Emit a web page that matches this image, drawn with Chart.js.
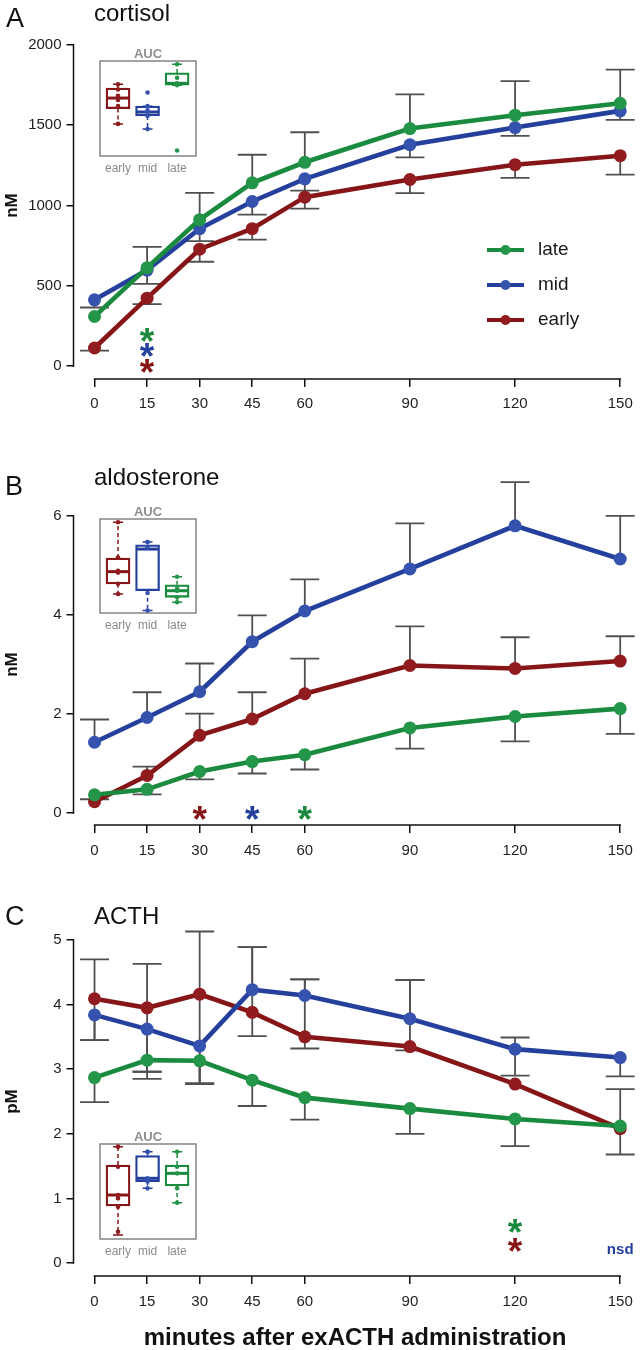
<!DOCTYPE html>
<html>
<head>
<meta charset="utf-8">
<script src="https://cdn.jsdelivr.net/npm/chart.js@4/dist/chart.umd.min.js"></script>
<style>
html,body{margin:0;padding:0;background:#fff;}
body{width:643px;height:1350px;position:relative;overflow:hidden;font-family:"Liberation Sans",Arial,Helvetica,sans-serif;}
canvas{position:absolute;display:block;}
.lbl{position:absolute;white-space:nowrap;color:#111;line-height:1;}
</style>
</head>
<body>
<canvas id="cA" width="643" height="440" style="left:0;top:0"></canvas>
<canvas id="cB" width="643" height="440" style="left:0;top:440px"></canvas>
<canvas id="cC" width="643" height="470" style="left:0;top:880px"></canvas>
<canvas id="iA" width="120" height="140" style="left:90px;top:40px"></canvas>
<canvas id="iB" width="120" height="140" style="left:90px;top:498px"></canvas>
<canvas id="iC" width="120" height="140" style="left:90px;top:1123px"></canvas>
<div class="lbl" style="left:6px;top:5px;font-size:27px">A</div>
<div class="lbl" style="left:94px;top:1px;font-size:24px">cortisol</div>
<div class="lbl" style="left:5px;top:473px;font-size:27px">B</div>
<div class="lbl" style="left:94px;top:465px;font-size:24px">aldosterone</div>
<div class="lbl" style="left:5px;top:903px;font-size:27px">C</div>
<div class="lbl" style="left:94px;top:904px;font-size:24px">ACTH</div>
<script>
// ---------- data ----------
const minutes = [0, 15, 30, 45, 60, 90, 120, 150];
const groupNames = ['late', 'mid', 'early'];
const boxGroups = ['early', 'mid', 'late'];

// Panel A: cortisol (nM)
const cortisolLate  = [309, 613, 912, 1141, 1269, 1479, 1562, 1636];
const cortisolMid   = [413, 598, 856, 1025, 1166, 1378, 1485, 1589];
const cortisolEarly = [113, 423, 728, 856, 1052, 1162, 1254, 1310];
const cortisolLateUp  = [null, 743, 1079, 1316, 1456, 1692, 1774, 1846];
const cortisolMidLo   = [365, 512, 778, 943, 1093, 1300, 1434, 1533];
const cortisolEarlyLo = [97, 386, 650, 788, 980, 1077, 1172, 1192];
const cortisolTicks = [0, 500, 1000, 1500, 2000];

// Panel B: aldosterone (nM)
const aldoLate  = [0.37, 0.48, 0.84, 1.04, 1.18, 1.72, 1.95, 2.11];
const aldoMid   = [1.43, 1.93, 2.45, 3.46, 4.08, 4.93, 5.80, 5.13];
const aldoEarly = [0.23, 0.76, 1.57, 1.90, 2.41, 2.98, 2.92, 3.07];
const aldoLateLo  = [null, 0.38, 0.68, 0.80, 0.88, 1.30, 1.45, 1.60];
const aldoMidUp   = [1.89, 2.44, 3.02, 3.99, 4.72, 5.85, 6.68, 6.00];
const aldoEarlyUp = [0.28, 0.94, 2.01, 2.44, 3.12, 3.77, 3.55, 3.57];
const aldoTicks = [0, 2, 4, 6];

// Panel C: ACTH (pM)
const acthLate  = [2.87, 3.14, 3.13, 2.83, 2.56, 2.39, 2.23, 2.12];
const acthMid   = [3.84, 3.62, 3.36, 4.23, 4.14, 3.78, 3.31, 3.18];
const acthEarly = [4.09, 3.95, 4.16, 3.88, 3.50, 3.35, 2.77, 2.08];
const acthLateLo  = [2.49, 2.85, 2.77, 2.43, 2.22, 2.00, 1.81, 1.68];
const acthMidUp   = [null, null, null, 4.89, 4.39, 4.38, 3.49, null];
const acthMidLo   = [3.45, 2.96, 2.78, null, null, null, 2.90, 2.89];
const acthEarlyUp = [4.70, 4.63, 5.13, 4.89, 4.39, 4.38, null, 2.69];
const acthEarlyLo = [3.45, 2.96, 2.78, 3.51, 3.32, 3.29, null, null];
const acthTicks = [0, 1, 2, 3, 4, 5];

// significance marks: [minute, level, group, text]
const marksA = [[15, 193, 'late', '*'], [15, 98, 'mid', '*'], [15, 0, 'early', '*']];
const marksB = [[30, 0, 'early', '*'], [45, 0, 'mid', '*'], [60, 0, 'late', '*']];
const marksC = [[120, 0.58, 'late', '*'], [120, 0.28, 'early', '*'], [150, 0.23, 'mid', 'nsd']];

// AUC insets (relative units 0-100), order early, mid, late
const aucA_lo  = [33.8, 28.3, 74.5];
const aucA_q1  = [49.9, 42.1, 74.5];
const aucA_med = [61.0, 46.3, 76.5];
const aucA_q3  = [71.5, 52.5, 87.5];
const aucA_hi  = [75.4, 52.5, 96.6];
const aucA_pts = [[75.4, 70, 63.5, 58.9, 52.6, 33.8], [66.8, 52.5, 48, 46.3, 42.1, 28.3], [96.6, 82.4, 76.5, 74.5, 5.8]];

const aucB_lo  = [20.2, 2.7, 11.4];
const aucB_q1  = [31.0, 23.7, 16.7];
const aucB_med = [44.0, 68.0, 23.7];
const aucB_q3  = [58.5, 72.5, 30.1];
const aucB_hi  = [96.5, 75.5, 38.5];
const aucB_pts = [[96.5, 59, 45, 43, 31, 20.2], [75.5, 75.5, 70, 21.3, 2.7], [38.5, 26, 23.7, 16.7, 11.4]];

const aucC_lo  = [4.2, 53.3, 38.2];
const aucC_q1  = [34.7, 60.4, 55.8];
const aucC_med = [46.3, 63.9, 69.1];
const aucC_q3  = [77.9, 87.7, 77.9];
const aucC_hi  = [97.2, 91.9, 91.9];
const aucC_pts = [[97.2, 76, 46.3, 42.8, 34, 7.7], [91.9, 91.9, 63.9, 60.4, 53.3], [91.9, 76, 69.1, 53.3, 38.2]];

// ---------- styles ----------
const FONT = '"Liberation Sans", Arial, Helvetica, sans-serif';
const COLORS = {
  late:  {line: '#1a8a3e', point: '#23964a'},
  mid:   {line: '#24409c', point: '#3553ae'},
  early: {line: '#861518', point: '#911c20'}
};
const AXIS = '#111111';
const ERR = '#505050';
const CAP = 14.5;
Chart.defaults.font.family = FONT;

// ---------- plugins ----------
const rAxes = {
  id: 'rAxes',
  afterDraw(chart) {
    const {ctx, chartArea, scales: {x, y}} = chart;
    const yt = y.ticks, xt = x.ticks;
    ctx.save();
    ctx.strokeStyle = AXIS; ctx.lineWidth = 1.5;
    ctx.beginPath();
    ctx.moveTo(chartArea.left, y.getPixelForValue(yt[0].value) + 0.75);
    ctx.lineTo(chartArea.left, y.getPixelForValue(yt[yt.length - 1].value) - 0.75);
    ctx.moveTo(x.getPixelForValue(xt[0].value) - 0.75, chartArea.bottom);
    ctx.lineTo(x.getPixelForValue(xt[xt.length - 1].value) + 0.75, chartArea.bottom);
    ctx.stroke();
    ctx.restore();
  }
};

const errBars = {
  id: 'errBars',
  beforeDatasetsDraw(chart) {
    const {ctx, scales: {x, y}} = chart;
    ctx.save();
    ctx.strokeStyle = ERR; ctx.lineWidth = 1.8;
    chart.data.datasets.forEach(ds => {
      [ds.errUp, ds.errLo].forEach(arr => {
        if (!arr) return;
        arr.forEach((v, j) => {
          if (v == null) return;
          const px = x.getPixelForValue(ds.data[j].x);
          const p0 = y.getPixelForValue(ds.data[j].y);
          const p1 = y.getPixelForValue(v);
          ctx.beginPath();
          ctx.moveTo(px, p0); ctx.lineTo(px, p1);
          ctx.moveTo(px - CAP, p1); ctx.lineTo(px + CAP, p1);
          ctx.stroke();
        });
      });
    });
    ctx.restore();
  }
};

function centeredText(ctx, text, px, cy) {
  const m = ctx.measureText(text);
  ctx.fillText(text, px, cy + (m.actualBoundingBoxAscent - m.actualBoundingBoxDescent) / 2);
}

function marksPlugin(marks) {
  return {
    id: 'marks',
    afterDatasetsDraw(chart) {
      const {ctx, scales: {x, y}} = chart;
      ctx.save();
      ctx.textAlign = 'center'; ctx.textBaseline = 'alphabetic';
      marks.forEach(([t, lvl, g, txt]) => {
        ctx.fillStyle = COLORS[g].line;
        if (txt === '*') {
          ctx.font = 'bold 100px ' + FONT;
          const w = ctx.measureText('*');
          const bw = w.actualBoundingBoxLeft + w.actualBoundingBoxRight;
          const size = 100 * 14.5 / bw;
          ctx.font = 'bold ' + size.toFixed(1) + 'px ' + FONT;
        } else {
          ctx.font = 'bold 15px ' + FONT;
        }
        centeredText(ctx, txt, x.getPixelForValue(t), y.getPixelForValue(lvl));
      });
      ctx.restore();
    }
  };
}

const legendA = {
  id: 'legendA',
  afterDraw(chart) {
    const ctx = chart.ctx;
    const x0 = 487, y0 = 250, len = 37, gap = 35;
    ctx.save();
    groupNames.forEach((g, i) => {
      const yy = y0 + i * gap;
      ctx.strokeStyle = COLORS[g].line; ctx.lineWidth = 4;
      ctx.beginPath(); ctx.moveTo(x0, yy); ctx.lineTo(x0 + len, yy); ctx.stroke();
      ctx.fillStyle = COLORS[g].point;
      ctx.beginPath(); ctx.arc(x0 + len / 2, yy, 5, 0, Math.PI * 2); ctx.fill();
      ctx.fillStyle = '#1a1a1a';
      ctx.font = '19px ' + FONT;
      ctx.textAlign = 'left'; ctx.textBaseline = 'middle';
      ctx.fillText(g, x0 + 51, yy);
    });
    ctx.restore();
  }
};

// ---------- builders ----------
function buildMain(id, p) {
  const datasets = groupNames.map(g => ({
    label: g,
    data: minutes.map((m, i) => ({x: m, y: p.series[g][i]})),
    borderColor: COLORS[g].line,
    backgroundColor: COLORS[g].point,
    pointBackgroundColor: COLORS[g].point,
    pointBorderWidth: 0,
    pointRadius: 6.5,
    borderWidth: 4.6,
    tension: 0,
    clip: false,
    errUp: p.up[g] || null,
    errLo: p.lo[g] || null
  }));
  const plugins = [errBars, rAxes, marksPlugin(p.marks)];
  if (p.legend) plugins.push(legendA);
  return new Chart(document.getElementById(id), {
    type: 'line',
    data: {datasets},
    options: {
      responsive: false, animation: false, events: [],
      layout: {padding: {top: p.top, right: 0, bottom: 0, left: 0}},
      plugins: {legend: {display: false}, tooltip: {enabled: false}},
      scales: {
        x: {
          type: 'linear', min: -6, max: 154.65,
          afterBuildTicks: s => { s.ticks = minutes.map(v => ({value: v})); },
          afterFit: s => { s.height = p.xh; },
          grid: {drawOnChartArea: false, drawTicks: true, tickLength: 8, color: AXIS, lineWidth: 1.5},
          border: {display: false},
          ticks: {padding: p.xpad, color: '#1e1e1e', font: {size: 15}, maxRotation: 0, autoSkip: false, callback: v => String(v)},
          title: p.xtitle ? {display: true, text: p.xtitle, color: '#111', font: {size: 24, weight: 'bold', lineHeight: 1}, padding: {top: 0, bottom: 0}} : {display: false}
        },
        y: {
          min: p.ymin, max: p.ymax,
          afterBuildTicks: s => { s.ticks = p.yticks.map(v => ({value: v})); },
          afterFit: s => { s.width = 73.5; },
          grid: {drawOnChartArea: false, drawTicks: true, tickLength: 7, color: AXIS, lineWidth: 1.5},
          border: {display: false},
          ticks: {padding: 5, color: '#1e1e1e', font: {size: 15}, autoSkip: false, callback: v => String(v)},
          title: {display: true, text: p.ytitle, color: '#111', font: {size: 17, weight: 'bold', lineHeight: 1}, padding: {top: 4, bottom: 0}}
        }
      }
    },
    plugins
  });
}

function buildInset(id, b, boxH) {
  const cols = [COLORS.early.line, COLORS.mid.line, COLORS.late.line];
  const ptCols = [COLORS.early.point, COLORS.mid.point, COLORS.late.point];
  const pts = [], pc = [];
  b.pts.forEach((arr, i) => arr.forEach(v => { pts.push({x: i, y: v}); pc.push(ptCols[i]); }));
  const insetDraw = {
    id: 'insetDraw',
    beforeDatasetsDraw(chart) {
      const {ctx, chartArea: a} = chart;
      ctx.save();
      ctx.strokeStyle = '#7c7c7c'; ctx.lineWidth = 1.4;
      ctx.strokeRect(a.left, a.top, a.right - a.left, a.bottom - a.top);
      ctx.restore();
    },
    afterDatasetDraw(chart, args) {
      if (args.index !== 1) return;
      const {ctx, scales: {x, y}} = chart;
      ctx.save();
      [0, 1, 2].forEach(i => {
        const px = x.getPixelForValue(i);
        ctx.strokeStyle = cols[i];
        ctx.lineWidth = 1.5;
        ctx.setLineDash([4, 3]);
        ctx.beginPath();
        ctx.moveTo(px, y.getPixelForValue(b.q3[i])); ctx.lineTo(px, y.getPixelForValue(b.hi[i]));
        ctx.moveTo(px, y.getPixelForValue(b.q1[i])); ctx.lineTo(px, y.getPixelForValue(b.lo[i]));
        ctx.stroke();
        ctx.setLineDash([]);
        ctx.beginPath();
        ctx.moveTo(px - 5, y.getPixelForValue(b.hi[i])); ctx.lineTo(px + 5, y.getPixelForValue(b.hi[i]));
        ctx.moveTo(px - 5, y.getPixelForValue(b.lo[i])); ctx.lineTo(px + 5, y.getPixelForValue(b.lo[i]));
        ctx.stroke();
        ctx.lineWidth = 3;
        ctx.beginPath();
        ctx.moveTo(px - 11.5, y.getPixelForValue(b.med[i])); ctx.lineTo(px + 11.5, y.getPixelForValue(b.med[i]));
        ctx.stroke();
      });
      ctx.restore();
    }
  };
  return new Chart(document.getElementById(id), {
    type: 'bar',
    data: {datasets: [
      {type: 'scatter', data: pts, pointBackgroundColor: pc, pointBorderWidth: 0, pointRadius: 2.3, clip: false},
      {type: 'bar', data: [0, 1, 2].map(i => ({x: i, y: [b.q1[i], b.q3[i]]})), backgroundColor: 'rgba(255,255,255,0)',
       borderColor: cols, borderWidth: 1.6, borderSkipped: false, barThickness: 24, grouped: false}
    ]},
    options: {
      responsive: false, animation: false, events: [],
      layout: {padding: {left: 10, right: 14, top: 0, bottom: 0}},
      plugins: {
        legend: {display: false}, tooltip: {enabled: false},
        title: {display: true, text: 'AUC', color: '#8e8e8e', font: {size: 13, weight: 'bold', lineHeight: 1}, padding: {top: 8, bottom: 0}}
      },
      scales: {
        x: {
          type: 'linear', min: -0.61, max: 2.64, offset: false,
          afterBuildTicks: s => { s.ticks = [0, 1, 2].map(v => ({value: v})); },
          afterFit: s => { s.height = 140 - 21 - boxH; },
          grid: {display: false, drawTicks: false, offset: false}, border: {display: false},
          ticks: {callback: v => boxGroups[v], padding: 5, color: '#8a8a8a', font: {size: 12}, maxRotation: 0, autoSkip: false}
        },
        y: {display: false, min: 0, max: 100}
      }
    },
    plugins: [insetDraw]
  });
}

// ---------- charts ----------
buildMain('cA', {
  series: {late: cortisolLate, mid: cortisolMid, early: cortisolEarly},
  up: {late: cortisolLateUp}, lo: {mid: cortisolMidLo, early: cortisolEarlyLo},
  marks: marksA, legend: true,
  top: 32, xh: 61, xpad: 8, ymin: -80, ymax: 2080, yticks: cortisolTicks, ytitle: 'nM'
});
buildMain('cB', {
  series: {late: aldoLate, mid: aldoMid, early: aldoEarly},
  up: {mid: aldoMidUp, early: aldoEarlyUp}, lo: {late: aldoLateLo},
  marks: marksB,
  top: 64, xh: 55, xpad: 9, ymin: -0.24, ymax: 6.24, yticks: aldoTicks, ytitle: 'nM'
});
buildMain('cC', {
  series: {late: acthLate, mid: acthMid, early: acthEarly},
  up: {mid: acthMidUp, early: acthEarlyUp}, lo: {late: acthLateLo, mid: acthMidLo, early: acthEarlyLo},
  marks: marksC,
  top: 47, xh: 74, xpad: 9, ymin: -0.2, ymax: 5.2, yticks: acthTicks, ytitle: 'pM',
  xtitle: 'minutes after exACTH administration'
});
buildInset('iA', {lo: aucA_lo, q1: aucA_q1, med: aucA_med, q3: aucA_q3, hi: aucA_hi, pts: aucA_pts}, 95);
buildInset('iB', {lo: aucB_lo, q1: aucB_q1, med: aucB_med, q3: aucB_q3, hi: aucB_hi, pts: aucB_pts}, 94);
buildInset('iC', {lo: aucC_lo, q1: aucC_q1, med: aucC_med, q3: aucC_q3, hi: aucC_hi, pts: aucC_pts}, 95);
</script>
</body>
</html>
